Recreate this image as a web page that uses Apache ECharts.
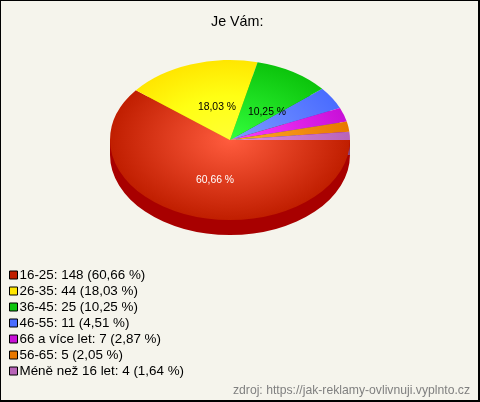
<!DOCTYPE html>
<html><head><meta charset="utf-8">
<style>html,body{margin:0;padding:0;background:#f5f4ec}#c{width:480px;height:402px}</style>
<script src="https://cdn.jsdelivr.net/npm/echarts@6/dist/echarts.min.js"></script>
</head><body><div id="c"></div>
<script>
const categories = ['16-25','26-35','36-45','46-55','66 a více let','56-65','Méně než 16 let'];
const counts = [148,44,25,11,7,5,4];
const percentLabels = ['60,66 %','18,03 %','10,25 %','4,51 %','2,87 %','2,05 %','1,64 %'];
const innerColors = ['#ff5c3e','#ffff33','#33ff3c','#7d9bff','#ff3dff','#ffab28','#e08ce0'];
const midColors = [null,'#ffff14',null,null,null,null,null];
const edgeColors = ['#c01e00','#ffe600','#0cc40c','#4a6cff','#c810d8','#e87800','#b864b8'];
const wallColors = ['#a80000','#c8b400','#089008','#3050c0','#900a9c','#b05a00','#884a88'];
const chartTitle = 'Je Vám:';
const sourceText = 'zdroj: https://jak-reklamy-ovlivnuji.vyplnto.cz';

const cx = 230, cy = 140, rx = 120, ry = 80, depth = 15;
const scaleY = ry / rx;
const labelFractions = [[.38,.53],[.33,.435],[.586,.41]];
const total = counts.reduce((a,b)=>a+b,0);
const starts = []; counts.reduce((acc,v,i)=>{starts[i]=acc;return acc+v;},0);

function stops(i){
  const s = [{offset:0,color:innerColors[i]}];
  if (midColors[i]) s.push({offset:.55,color:midColors[i]});
  s.push({offset:1,color:edgeColors[i]});
  return s;
}

function renderItem(i, z){
  return function(params, api){
    const v = api.value(0);
    const a0 = starts[i]/total*Math.PI*2, a1 = a0 + v/total*Math.PI*2;
    const mid = (a0+a1)/2;
    const children = [];
    if (z === 0) {
      children.push({type:'sector',x:cx,y:cy+depth,scaleY:scaleY,
        shape:{cx:0,cy:0,r:rx,r0:0,startAngle:a0,endAngle:a1,clockwise:true},
        style:{fill:wallColors[i]}});
      if (i === 0) children.push({type:'rect',shape:{x:cx-rx,y:cy,width:rx*2,height:depth},style:{fill:wallColors[0]}});
    } else {
      children.push({type:'sector',x:cx,y:cy,scaleY:scaleY,
        shape:{cx:0,cy:0,r:rx,r0:0,startAngle:a0,endAngle:a1,clockwise:true},
        style:{fill:{type:'radial',x:0,y:0,r:rx,global:true,colorStops:stops(i)}}});
      if (labelFractions[i]) {
        children.push({type:'text',z2:10,
          x:cx+Math.cos(mid)*rx*labelFractions[i][0],
          y:cy+Math.sin(mid)*ry*labelFractions[i][1],
          style:{text:percentLabels[i],fill:i===0?'#ffffff':'#000000',
            font:'10.4px "Liberation Sans"',align:'center',verticalAlign:'middle'}});
      }
    }
    return {type:'group',children:children};
  };
}

const series = [];
categories.forEach((c,i)=>{
  series.push({type:'custom',name:'wall'+i,coordinateSystem:'none',silent:true,animation:false,z:1,
    renderItem:renderItem(i,0),data:[[counts[i]]]});
});
categories.forEach((c,i)=>{
  series.push({type:'custom',name:c+': '+counts[i]+' ('+percentLabels[i]+')',coordinateSystem:'none',
    silent:true,animation:false,z:2+(i<3?1:0),
    itemStyle:{color:edgeColors[i]},
    renderItem:renderItem(i,1),data:[[counts[i]]]});
});

function bar(x,y,w,h){return {type:'rect',z:100,silent:true,shape:{x:x,y:y,width:w,height:h},style:{fill:'#000'}};}

const chart = echarts.init(document.getElementById('c'),null,{renderer:'canvas'});
chart.setOption({
  backgroundColor:'#f5f4ec',
  animation:false,
  title:[
    {text:chartTitle,left:211,top:15,padding:0,textStyle:{fontFamily:'Liberation Sans',fontSize:14.3,fontWeight:'normal',color:'#000'}},
    {text:sourceText,right:10,top:385,padding:0,textStyle:{fontFamily:'Liberation Sans',fontSize:12.2,fontWeight:'normal',color:'#808080'}}
  ],
  legend:{
    orient:'vertical',left:9,top:267,padding:0,itemGap:0,itemWidth:8,itemHeight:8,
    icon:'rect',selectedMode:false,
    data:categories.map((c,i)=>c+': '+counts[i]+' ('+percentLabels[i]+')'),
    itemStyle:{borderColor:'#000',borderWidth:1},
    textStyle:{fontFamily:'Liberation Sans',fontSize:13.4,color:'#000',lineHeight:16,padding:[0,0,0,-3]}
  },
  graphic:[bar(0,0,480,1),bar(0,0,1,402),bar(478,0,2,402),bar(0,400,480,2)],
  series:series
});
</script></body></html>
